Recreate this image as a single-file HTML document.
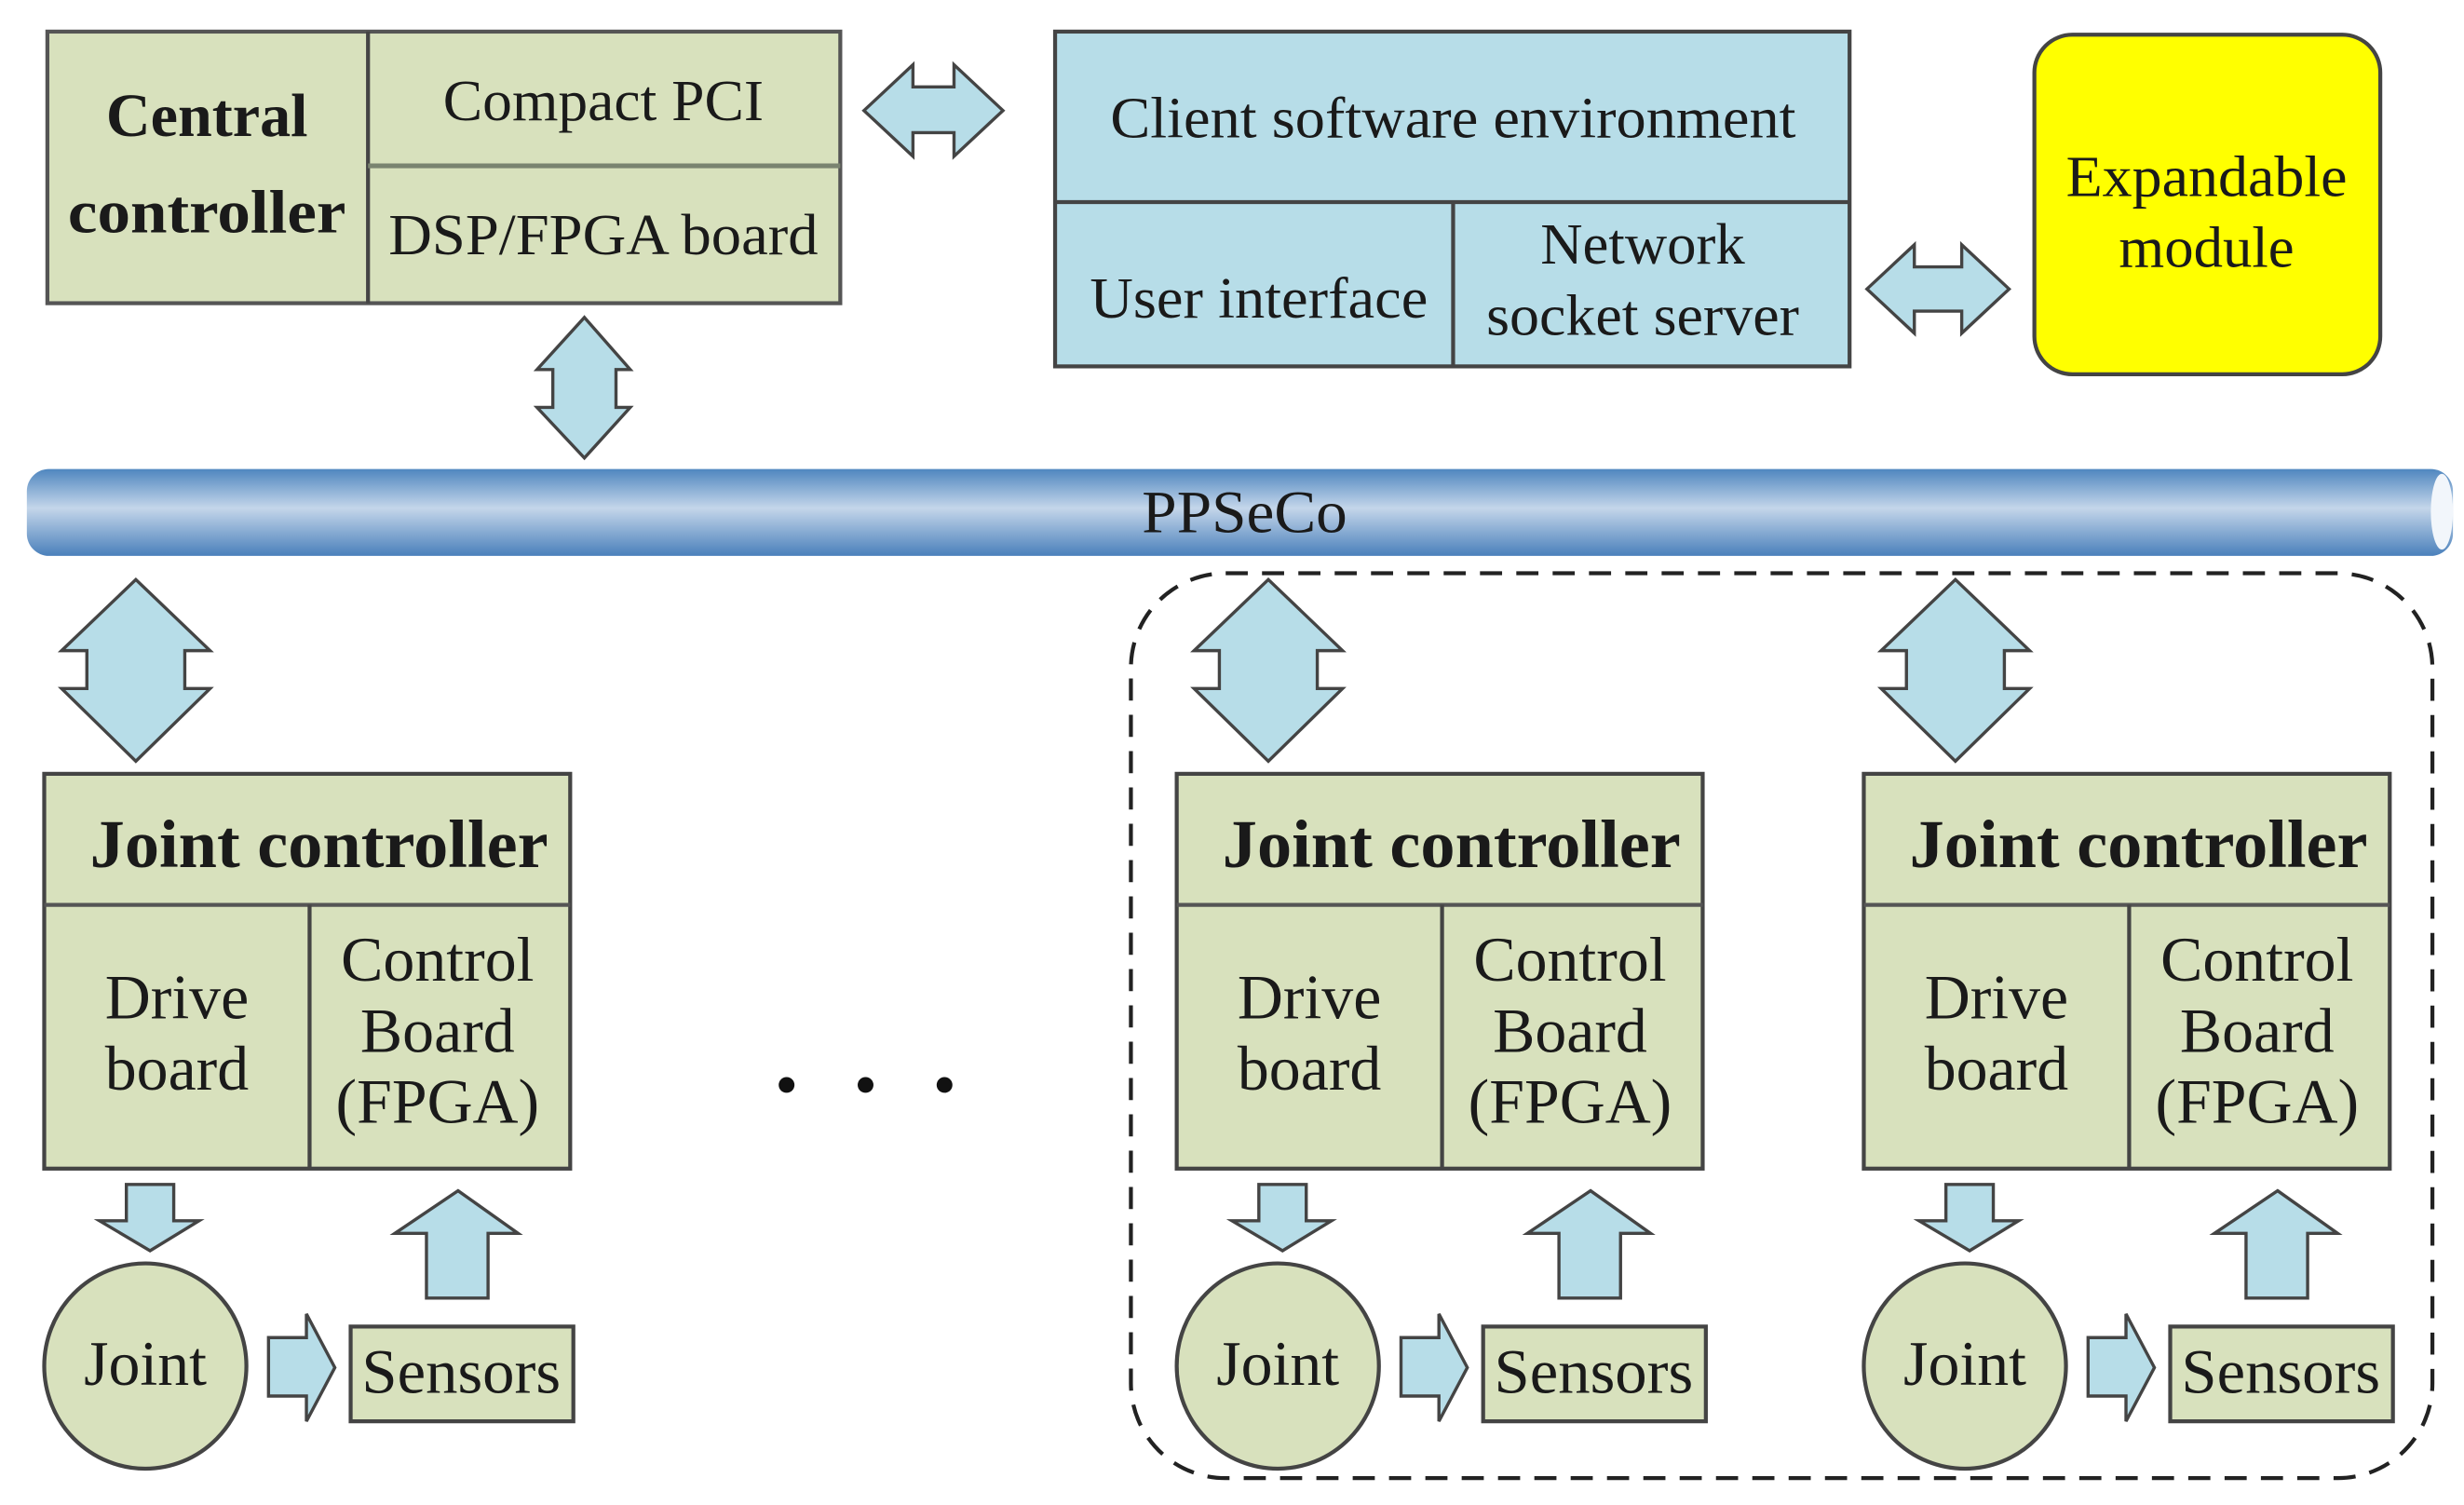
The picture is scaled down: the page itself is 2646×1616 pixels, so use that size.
<!DOCTYPE html>
<html><head><meta charset="utf-8"><style>html,body{margin:0;padding:0;background:#fff}svg{display:block}</style></head>
<body>
<svg width="2646" height="1616" viewBox="0 0 1560 953" preserveAspectRatio="none" xmlns="http://www.w3.org/2000/svg" font-family="'Liberation Serif', serif" fill="#1a1a1a">
<defs>
<linearGradient id="tube" x1="0" y1="0" x2="0" y2="1">
<stop offset="0" stop-color="#4f86bf"/><stop offset="0.45" stop-color="#c4d6ea"/><stop offset="1" stop-color="#4a80bb"/>
</linearGradient>
<g id="jc">
<rect x="28" y="490" width="333" height="250" fill="#d8e1bd" stroke="#444" stroke-width="2.5"/>
<line x1="28" y1="573" x2="361" y2="573" stroke="#555" stroke-width="2.5"/>
<line x1="196" y1="573" x2="196" y2="740" stroke="#444" stroke-width="2.5"/>
<text x="202" y="549" font-size="43" font-weight="bold" text-anchor="middle" textLength="290" lengthAdjust="spacingAndGlyphs">Joint controller</text>
<text x="112" y="645" font-size="40" text-anchor="middle">Drive</text>
<text x="112" y="690" font-size="40" text-anchor="middle">board</text>
<text x="277" y="621" font-size="40" text-anchor="middle">Control</text>
<text x="277" y="666" font-size="40" text-anchor="middle">Board</text>
<text x="277" y="711" font-size="40" text-anchor="middle">(FPGA)</text>
<polygon points="39,412 86,367 133,412 117,412 117,436 133,436 86,482 39,436 55,436 55,412" fill="#b7dde8" stroke="#444" stroke-width="2"/>
<polygon points="80,750 110,750 110,773 126,773 95,792 63,773 80,773" fill="#b7dde8" stroke="#444" stroke-width="2"/>
<polygon points="290,754 328,781 309,781 309,822 270,822 270,781 250,781" fill="#b7dde8" stroke="#444" stroke-width="2"/>
<polygon points="170,847 194,847 194,832 212,866 194,900 194,884 170,884" fill="#b7dde8" stroke="#444" stroke-width="2"/>
<ellipse cx="92" cy="865" rx="64" ry="65" fill="#d8e1bd" stroke="#444" stroke-width="2.5"/>
<text x="92" y="877" font-size="40" text-anchor="middle">Joint</text>
<rect x="222" y="840" width="141" height="60" fill="#d8e1bd" stroke="#444" stroke-width="2.5"/>
<text x="292" y="882" font-size="40" text-anchor="middle" textLength="126" lengthAdjust="spacingAndGlyphs">Sensors</text>
</g>
</defs>

<rect x="30" y="20" width="502" height="172" fill="#d8e1bd" stroke="#555" stroke-width="2.5"/>
<line x1="233" y1="20" x2="233" y2="192" stroke="#444" stroke-width="2.5"/>
<line x1="233" y1="105" x2="532" y2="105" stroke="#7a8470" stroke-width="3"/>
<text x="131" y="86" font-size="39" font-weight="bold" text-anchor="middle">Central</text>
<text x="131" y="147" font-size="39" font-weight="bold" text-anchor="middle" textLength="176" lengthAdjust="spacingAndGlyphs">controller</text>
<text x="382" y="76" font-size="37" text-anchor="middle" textLength="203" lengthAdjust="spacingAndGlyphs">Compact PCI</text>
<text x="382" y="161" font-size="37" text-anchor="middle" textLength="272" lengthAdjust="spacingAndGlyphs">DSP/FPGA board</text>

<polygon points="547,70 578,41 578,55 604,55 604,41 635,70 604,99 604,84 578,84 578,99" fill="#b7dde8" stroke="#444" stroke-width="2"/>

<rect x="668" y="20" width="503" height="212" fill="#b7dde8" stroke="#444" stroke-width="2.5"/>
<line x1="668" y1="128" x2="1171" y2="128" stroke="#444" stroke-width="2.5"/>
<line x1="920" y1="128" x2="920" y2="232" stroke="#444" stroke-width="2.5"/>
<text x="920" y="87" font-size="37" text-anchor="middle" textLength="434" lengthAdjust="spacingAndGlyphs">Client software environment</text>
<text x="797" y="201" font-size="37" text-anchor="middle" textLength="214" lengthAdjust="spacingAndGlyphs">User interface</text>
<text x="1040" y="167" font-size="37" text-anchor="middle">Network</text>
<text x="1040" y="212" font-size="37" text-anchor="middle" textLength="198" lengthAdjust="spacingAndGlyphs">socket server</text>

<polygon points="1182,183 1212,155 1212,169 1242,169 1242,155 1272,183 1242,211 1242,197 1212,197 1212,211" fill="#b7dde8" stroke="#444" stroke-width="2"/>

<rect x="1288" y="22" width="219" height="215" rx="24" fill="#ffff00" stroke="#444" stroke-width="2.5"/>
<text x="1397" y="124" font-size="37" text-anchor="middle" textLength="178" lengthAdjust="spacingAndGlyphs">Expandable</text>
<text x="1397" y="169" font-size="37" text-anchor="middle">module</text>

<polygon points="370,201 399,234 390,234 390,258 399,258 370,290 340,258 350,258 350,234 340,234" fill="#b7dde8" stroke="#444" stroke-width="2"/>

<rect x="17" y="297" width="1536" height="55" rx="14" fill="url(#tube)"/>
<ellipse cx="1546" cy="324" rx="7" ry="24" fill="#f2f6fb"/>
<text x="788" y="337" font-size="38" text-anchor="middle" textLength="130" lengthAdjust="spacingAndGlyphs">PPSeCo</text>

<rect x="716" y="363" width="824" height="573" rx="60" fill="none" stroke="#222" stroke-width="2.5" stroke-dasharray="14,9"/>

<use href="#jc"/>
<use href="#jc" x="717"/>
<use href="#jc" x="1152"/>

<circle cx="498" cy="687" r="5" fill="#111"/>
<circle cx="548" cy="687" r="5" fill="#111"/>
<circle cx="598" cy="687" r="5" fill="#111"/>
</svg>
</body></html>
